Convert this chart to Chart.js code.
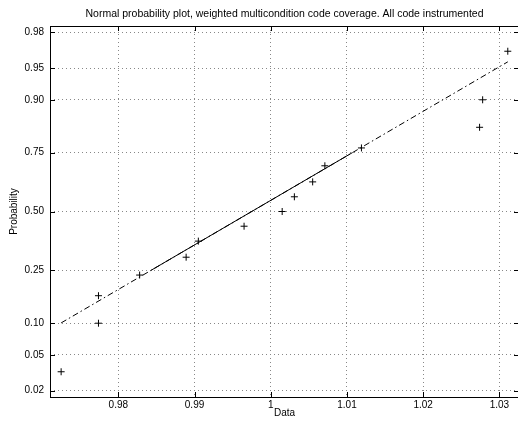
<!DOCTYPE html>
<html>
<head>
<meta charset="utf-8">
<script src="https://cdn.jsdelivr.net/npm/chart.js@4/dist/chart.umd.min.js"></script>
<style>
  html, body { margin: 0; padding: 0; background: #fff; overflow: hidden; }
  canvas { display: block; }
</style>
</head>
<body>
<canvas id="plot" width="525" height="424"></canvas>
<script>
const dataX = [0.9725, 0.9774, 0.9774, 0.9828, 0.9889, 0.9905, 0.9965, 1.0015,
               1.0031, 1.0055, 1.0071, 1.0119, 1.0274, 1.0278, 1.0311];
const dataP = [0.033, 0.100, 0.167, 0.233, 0.300, 0.367, 0.433, 0.500,
               0.567, 0.633, 0.700, 0.767, 0.833, 0.900, 0.967];

// Reta de referência: trecho cheio (quartis) e trecho traço-ponto
const solidX = [0.9843, 1.0107];
const solidP = [0.25, 0.75];
const dashX = [0.9725, 1.0311];
const dashP = [0.1006, 0.957];

// Eixos
const xTicks = [0.98, 0.99, 1.00, 1.01, 1.02, 1.03];
const xLabels = ['0.98', '0.99', '1', '1.01', '1.02', '1.03'];
const pTicks = [0.02, 0.05, 0.10, 0.25, 0.50, 0.75, 0.90, 0.95, 0.98];
const pLabels = ['0.02', '0.05', '0.10', '0.25', '0.50', '0.75', '0.90', '0.95', '0.98'];
const xRange = [0.97104, 1.03257];
const pRange = [0.01667, 0.98333];

// Inversa da normal padrão (Acklam) - escala de probabilidade
function norminv(p) {
  const a = [-39.69683028665376, 220.9460984245205, -275.9285104469687, 138.3577518672690, -30.66479806614716, 2.506628277459239];
  const b = [-54.47609879822406, 161.5858368580409, -155.6989798598866, 66.80131188771972, -13.28068155288572];
  const c = [-0.007784894002430293, -0.3223964580411365, -2.400758277161838, -2.549732539343734, 4.374664141464968, 2.938163982698783];
  const d = [0.007784695709041462, 0.3224671290700398, 2.445134137142996, 3.754408661907416];
  const pl = 0.02425;
  let q, r;
  if (p < pl) {
    q = Math.sqrt(-2 * Math.log(p));
    return (((((c[0]*q+c[1])*q+c[2])*q+c[3])*q+c[4])*q+c[5]) / ((((d[0]*q+d[1])*q+d[2])*q+d[3])*q+1);
  }
  if (p > 1 - pl) {
    q = Math.sqrt(-2 * Math.log(1 - p));
    return -(((((c[0]*q+c[1])*q+c[2])*q+c[3])*q+c[4])*q+c[5]) / ((((d[0]*q+d[1])*q+d[2])*q+d[3])*q+1);
  }
  q = p - 0.5; r = q * q;
  return (((((a[0]*r+a[1])*r+a[2])*r+a[3])*r+a[4])*r+a[5])*q / (((((b[0]*r+b[1])*r+b[2])*r+b[3])*r+b[4])*r+1);
}

const pts = (xs, ps) => xs.map((x, i) => ({ x: x, y: norminv(ps[i]) }));

// Caixa do eixo e marcas de escala para dentro (estilo MATLAB)
const boxPlugin = {
  id: 'box',
  afterDatasetsDraw(chart) {
    const { ctx, chartArea: a, scales: { x, y } } = chart;
    ctx.save();
    ctx.strokeStyle = '#000';
    ctx.lineWidth = 1;
    ctx.strokeRect(a.left + 0.5, a.top + 0.5, a.right - a.left, a.bottom - a.top);
    ctx.beginPath();
    x.ticks.forEach(t => {
      const px = Math.round(x.getPixelForValue(t.value)) + 0.5;
      ctx.moveTo(px, a.bottom); ctx.lineTo(px, a.bottom - 5);
      ctx.moveTo(px, a.top); ctx.lineTo(px, a.top + 5);
    });
    y.ticks.forEach(t => {
      const py = Math.round(y.getPixelForValue(t.value)) + 0.5;
      ctx.moveTo(a.left, py); ctx.lineTo(a.left + 5, py);
      ctx.moveTo(a.right, py); ctx.lineTo(a.right - 5, py);
    });
    ctx.stroke();
    ctx.restore();
  }
};

const fonte = { family: "'Liberation Sans', Arial, Helvetica, sans-serif", size: 10 };

new Chart(document.getElementById('plot'), {
  type: 'scatter',
  data: {
    datasets: [
      {
        data: pts(dashX, dashP),
        showLine: true,
        borderColor: '#000',
        borderWidth: 1,
        borderDash: [6, 3, 1.5, 3],
        pointRadius: 0
      },
      {
        data: pts(solidX, solidP),
        showLine: true,
        borderColor: '#000',
        borderWidth: 1,
        pointRadius: 0
      },
      {
        data: pts(dataX, dataP),
        pointStyle: 'cross',
        pointRadius: 3.5,
        borderColor: '#000',
        borderWidth: 1
      }
    ]
  },
  options: {
    responsive: false,
    animation: false,
    layout: { padding: { left: 0, right: 6, top: 0, bottom: 0 } },
    plugins: {
      legend: { display: false },
      tooltip: { enabled: false },
      title: {
        display: true,
        fullSize: false,
        text: 'Normal probability plot, weighted multicondition code coverage. All code instrumented',
        color: '#000',
        font: { family: fonte.family, size: 10.5, weight: 'normal' },
        padding: { top: 8, bottom: 5.4 }
      }
    },
    scales: {
      x: {
        type: 'linear',
        min: xRange[0],
        max: xRange[1],
        afterBuildTicks: s => { s.ticks = xTicks.map(v => ({ value: v })); },
        afterFit: s => { s.height = 27; },
        ticks: {
          color: '#000',
          font: fonte,
          padding: 2.5,
          maxRotation: 0,
          callback: (v, i) => xLabels[i]
        },
        grid: { color: '#888', drawTicks: false },
        border: { display: false, dash: [1, 3] },
        title: { display: true, text: 'Data', color: '#000', font: fonte, padding: { top: 0, bottom: 4.5 } }
      },
      y: {
        type: 'linear',
        min: norminv(pRange[0]),
        max: norminv(pRange[1]),
        afterBuildTicks: s => { s.ticks = pTicks.map(p => ({ value: norminv(p) })); },
        afterFit: s => { s.width = 50; },
        ticks: {
          color: '#000',
          font: fonte,
          padding: 6,
          callback: (v, i) => pLabels[i]
        },
        grid: { color: '#888', drawTicks: false },
        border: { display: false, dash: [1, 3] },
        title: { display: true, text: 'Probability', color: '#000', font: fonte, padding: { top: 8, bottom: 0 } }
      }
    }
  },
  plugins: [boxPlugin]
});
</script>
</body>
</html>
